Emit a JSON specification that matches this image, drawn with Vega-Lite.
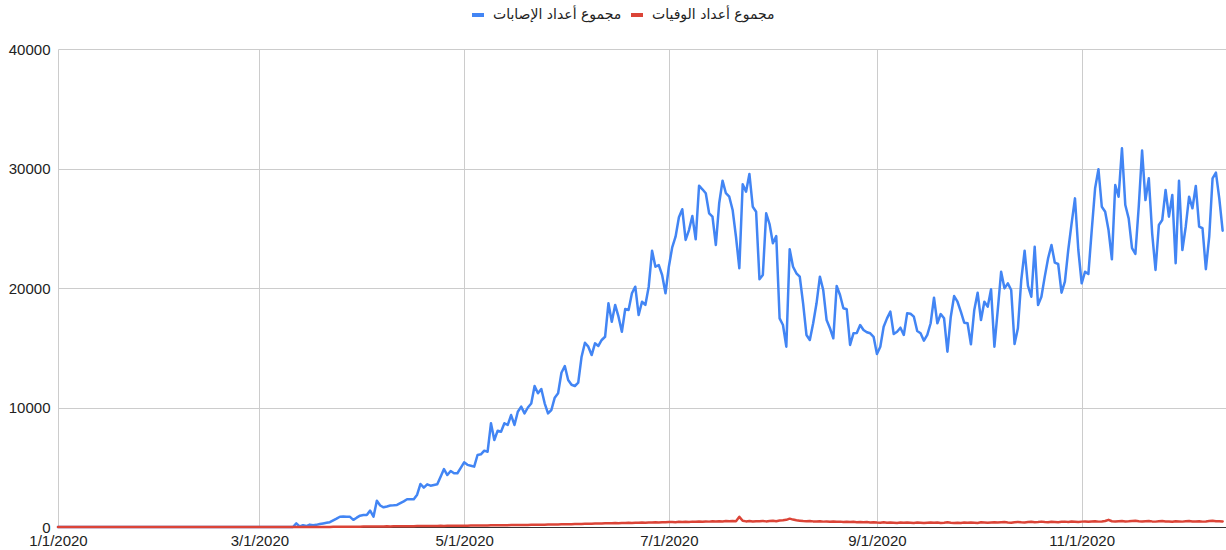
{
"$schema": "https://vega.github.io/schema/vega-lite/v6.json",
"width": 1168,
"height": 478,
"autosize": {"type": "none"},
"padding": {"left": 58, "top": 49, "right": 0, "bottom": 23},
"background": "white",
"config": {"view": {"stroke": null}, "font": "Liberation Sans"},
"data": {"values": [
{"date":"2020-01-01","cases":0,"deaths":0},{"date":"2020-01-02","cases":0,"deaths":0},{"date":"2020-01-03","cases":0,"deaths":0},{"date":"2020-01-04","cases":0,"deaths":0},{"date":"2020-01-05","cases":0,"deaths":0},{"date":"2020-01-06","cases":0,"deaths":0},{"date":"2020-01-07","cases":0,"deaths":0},{"date":"2020-01-08","cases":0,"deaths":0},{"date":"2020-01-09","cases":0,"deaths":0},{"date":"2020-01-10","cases":0,"deaths":0},
{"date":"2020-01-11","cases":0,"deaths":0},{"date":"2020-01-12","cases":0,"deaths":0},{"date":"2020-01-13","cases":0,"deaths":0},{"date":"2020-01-14","cases":0,"deaths":0},{"date":"2020-01-15","cases":0,"deaths":0},{"date":"2020-01-16","cases":0,"deaths":0},{"date":"2020-01-17","cases":0,"deaths":0},{"date":"2020-01-18","cases":0,"deaths":0},{"date":"2020-01-19","cases":0,"deaths":0},{"date":"2020-01-20","cases":0,"deaths":0},
{"date":"2020-01-21","cases":0,"deaths":0},{"date":"2020-01-22","cases":0,"deaths":0},{"date":"2020-01-23","cases":0,"deaths":0},{"date":"2020-01-24","cases":0,"deaths":0},{"date":"2020-01-25","cases":0,"deaths":0},{"date":"2020-01-26","cases":0,"deaths":0},{"date":"2020-01-27","cases":0,"deaths":0},{"date":"2020-01-28","cases":0,"deaths":0},{"date":"2020-01-29","cases":0,"deaths":0},{"date":"2020-01-30","cases":0,"deaths":0},{"date":"2020-01-31","cases":0,"deaths":0},
{"date":"2020-02-01","cases":0,"deaths":0},{"date":"2020-02-02","cases":0,"deaths":0},{"date":"2020-02-03","cases":0,"deaths":0},{"date":"2020-02-04","cases":0,"deaths":0},{"date":"2020-02-05","cases":0,"deaths":0},{"date":"2020-02-06","cases":0,"deaths":0},{"date":"2020-02-07","cases":0,"deaths":0},{"date":"2020-02-08","cases":0,"deaths":0},{"date":"2020-02-09","cases":0,"deaths":0},{"date":"2020-02-10","cases":0,"deaths":0},
{"date":"2020-02-11","cases":0,"deaths":0},{"date":"2020-02-12","cases":0,"deaths":0},{"date":"2020-02-13","cases":0,"deaths":0},{"date":"2020-02-14","cases":0,"deaths":0},{"date":"2020-02-15","cases":0,"deaths":0},{"date":"2020-02-16","cases":0,"deaths":0},{"date":"2020-02-17","cases":0,"deaths":0},{"date":"2020-02-18","cases":0,"deaths":0},{"date":"2020-02-19","cases":0,"deaths":0},{"date":"2020-02-20","cases":0,"deaths":0},
{"date":"2020-02-21","cases":0,"deaths":0},{"date":"2020-02-22","cases":0,"deaths":0},{"date":"2020-02-23","cases":0,"deaths":0},{"date":"2020-02-24","cases":0,"deaths":0},{"date":"2020-02-25","cases":0,"deaths":0},{"date":"2020-02-26","cases":0,"deaths":0},{"date":"2020-02-27","cases":0,"deaths":0},{"date":"2020-02-28","cases":0,"deaths":0},{"date":"2020-02-29","cases":0,"deaths":0},
{"date":"2020-03-01","cases":0,"deaths":0},{"date":"2020-03-02","cases":0,"deaths":0},{"date":"2020-03-03","cases":0,"deaths":0},{"date":"2020-03-04","cases":0,"deaths":0},{"date":"2020-03-05","cases":0,"deaths":0},{"date":"2020-03-06","cases":0,"deaths":0},{"date":"2020-03-07","cases":0,"deaths":0},{"date":"2020-03-08","cases":0,"deaths":0},{"date":"2020-03-09","cases":0,"deaths":0},{"date":"2020-03-10","cases":0,"deaths":0},
{"date":"2020-03-11","cases":0,"deaths":0},{"date":"2020-03-12","cases":300,"deaths":1},{"date":"2020-03-13","cases":50,"deaths":0},{"date":"2020-03-14","cases":150,"deaths":2},{"date":"2020-03-15","cases":80,"deaths":1},{"date":"2020-03-16","cases":200,"deaths":3},{"date":"2020-03-17","cases":150,"deaths":2},{"date":"2020-03-18","cases":180,"deaths":4},{"date":"2020-03-19","cases":250,"deaths":5},{"date":"2020-03-20","cases":300,"deaths":6},
{"date":"2020-03-21","cases":350,"deaths":8},{"date":"2020-03-22","cases":400,"deaths":10},{"date":"2020-03-23","cases":550,"deaths":12},{"date":"2020-03-24","cases":700,"deaths":15},{"date":"2020-03-25","cases":860,"deaths":14},{"date":"2020-03-26","cases":870,"deaths":18},{"date":"2020-03-27","cases":860,"deaths":20},{"date":"2020-03-28","cases":850,"deaths":22},{"date":"2020-03-29","cases":600,"deaths":25},{"date":"2020-03-30","cases":780,"deaths":28},{"date":"2020-03-31","cases":950,"deaths":30},
{"date":"2020-04-01","cases":1000,"deaths":35},{"date":"2020-04-02","cases":1000,"deaths":33},{"date":"2020-04-03","cases":1370,"deaths":40},{"date":"2020-04-04","cases":860,"deaths":38},{"date":"2020-04-05","cases":2200,"deaths":45},{"date":"2020-04-06","cases":1800,"deaths":50},{"date":"2020-04-07","cases":1650,"deaths":48},{"date":"2020-04-08","cases":1720,"deaths":55},{"date":"2020-04-09","cases":1800,"deaths":52},{"date":"2020-04-10","cases":1820,"deaths":60},
{"date":"2020-04-11","cases":1850,"deaths":58},{"date":"2020-04-12","cases":2000,"deaths":62},{"date":"2020-04-13","cases":2150,"deaths":65},{"date":"2020-04-14","cases":2320,"deaths":70},{"date":"2020-04-15","cases":2330,"deaths":68},{"date":"2020-04-16","cases":2320,"deaths":72},{"date":"2020-04-17","cases":2700,"deaths":75},{"date":"2020-04-18","cases":3600,"deaths":80},{"date":"2020-04-19","cases":3290,"deaths":78},{"date":"2020-04-20","cases":3570,"deaths":82},
{"date":"2020-04-21","cases":3460,"deaths":85},{"date":"2020-04-22","cases":3520,"deaths":88},{"date":"2020-04-23","cases":3570,"deaths":90},{"date":"2020-04-24","cases":4210,"deaths":95},{"date":"2020-04-25","cases":4850,"deaths":92},{"date":"2020-04-26","cases":4350,"deaths":98},{"date":"2020-04-27","cases":4690,"deaths":100},{"date":"2020-04-28","cases":4500,"deaths":105},{"date":"2020-04-29","cases":4500,"deaths":110},{"date":"2020-04-30","cases":4950,"deaths":108},
{"date":"2020-05-01","cases":5410,"deaths":115},{"date":"2020-05-02","cases":5200,"deaths":112},{"date":"2020-05-03","cases":5130,"deaths":120},{"date":"2020-05-04","cases":5050,"deaths":118},{"date":"2020-05-05","cases":6025,"deaths":125},{"date":"2020-05-06","cases":6080,"deaths":130},{"date":"2020-05-07","cases":6390,"deaths":128},{"date":"2020-05-08","cases":6300,"deaths":135},{"date":"2020-05-09","cases":8680,"deaths":140},{"date":"2020-05-10","cases":7280,"deaths":138},
{"date":"2020-05-11","cases":8060,"deaths":145},{"date":"2020-05-12","cases":7975,"deaths":150},{"date":"2020-05-13","cases":8680,"deaths":148},{"date":"2020-05-14","cases":8540,"deaths":155},{"date":"2020-05-15","cases":9370,"deaths":160},{"date":"2020-05-16","cases":8540,"deaths":158},{"date":"2020-05-17","cases":9650,"deaths":165},{"date":"2020-05-18","cases":10070,"deaths":170},{"date":"2020-05-19","cases":9510,"deaths":175},{"date":"2020-05-20","cases":10000,"deaths":172},
{"date":"2020-05-21","cases":10330,"deaths":180},{"date":"2020-05-22","cases":11800,"deaths":185},{"date":"2020-05-23","cases":11190,"deaths":190},{"date":"2020-05-24","cases":11550,"deaths":188},{"date":"2020-05-25","cases":10350,"deaths":195},{"date":"2020-05-26","cases":9510,"deaths":200},{"date":"2020-05-27","cases":9790,"deaths":210},{"date":"2020-05-28","cases":10820,"deaths":205},{"date":"2020-05-29","cases":11190,"deaths":215},{"date":"2020-05-30","cases":12910,"deaths":220},{"date":"2020-05-31","cases":13470,"deaths":230},
{"date":"2020-06-01","cases":12300,"deaths":225},{"date":"2020-06-02","cases":11900,"deaths":240},{"date":"2020-06-03","cases":11800,"deaths":250},{"date":"2020-06-04","cases":12080,"deaths":245},{"date":"2020-06-05","cases":14250,"deaths":260},{"date":"2020-06-06","cases":15420,"deaths":270},{"date":"2020-06-07","cases":15090,"deaths":265},{"date":"2020-06-08","cases":14390,"deaths":280},{"date":"2020-06-09","cases":15370,"deaths":290},{"date":"2020-06-10","cases":15150,"deaths":285},
{"date":"2020-06-11","cases":15650,"deaths":300},{"date":"2020-06-12","cases":15920,"deaths":310},{"date":"2020-06-13","cases":18720,"deaths":305},{"date":"2020-06-14","cases":17180,"deaths":320},{"date":"2020-06-15","cases":18580,"deaths":330},{"date":"2020-06-16","cases":17600,"deaths":315},{"date":"2020-06-17","cases":16340,"deaths":335},{"date":"2020-06-18","cases":18240,"deaths":340},{"date":"2020-06-19","cases":18160,"deaths":350},{"date":"2020-06-20","cases":19560,"deaths":340},
{"date":"2020-06-21","cases":20110,"deaths":360},{"date":"2020-06-22","cases":17740,"deaths":355},{"date":"2020-06-23","cases":18850,"deaths":370},{"date":"2020-06-24","cases":18580,"deaths":365},{"date":"2020-06-25","cases":20110,"deaths":380},{"date":"2020-06-26","cases":23120,"deaths":375},{"date":"2020-06-27","cases":21780,"deaths":390},{"date":"2020-06-28","cases":21920,"deaths":385},{"date":"2020-06-29","cases":21090,"deaths":400},{"date":"2020-06-30","cases":19560,"deaths":390},
{"date":"2020-07-01","cases":21780,"deaths":410},{"date":"2020-07-02","cases":23400,"deaths":420},{"date":"2020-07-03","cases":24290,"deaths":405},{"date":"2020-07-04","cases":25920,"deaths":430},{"date":"2020-07-05","cases":26590,"deaths":415},{"date":"2020-07-06","cases":24020,"deaths":440},{"date":"2020-07-07","cases":24850,"deaths":425},{"date":"2020-07-08","cases":26020,"deaths":450},{"date":"2020-07-09","cases":24070,"deaths":430},{"date":"2020-07-10","cases":28560,"deaths":460},
{"date":"2020-07-11","cases":28260,"deaths":445},{"date":"2020-07-12","cases":27930,"deaths":470},{"date":"2020-07-13","cases":26250,"deaths":450},{"date":"2020-07-14","cases":25970,"deaths":480},{"date":"2020-07-15","cases":23600,"deaths":460},{"date":"2020-07-16","cases":27090,"deaths":490},{"date":"2020-07-17","cases":28980,"deaths":470},{"date":"2020-07-18","cases":27930,"deaths":500},{"date":"2020-07-19","cases":27640,"deaths":480},{"date":"2020-07-20","cases":26530,"deaths":510},
{"date":"2020-07-21","cases":24290,"deaths":490},{"date":"2020-07-22","cases":21650,"deaths":850},{"date":"2020-07-23","cases":28680,"deaths":520},{"date":"2020-07-24","cases":28060,"deaths":470},{"date":"2020-07-25","cases":29540,"deaths":500},{"date":"2020-07-26","cases":26800,"deaths":460},{"date":"2020-07-27","cases":26380,"deaths":490},{"date":"2020-07-28","cases":20730,"deaths":480},{"date":"2020-07-29","cases":21090,"deaths":510},{"date":"2020-07-30","cases":26250,"deaths":470},{"date":"2020-07-31","cases":25350,"deaths":500},
{"date":"2020-08-01","cases":23740,"deaths":520},{"date":"2020-08-02","cases":24350,"deaths":480},{"date":"2020-08-03","cases":17460,"deaths":540},{"date":"2020-08-04","cases":16900,"deaths":560},{"date":"2020-08-05","cases":15090,"deaths":600},{"date":"2020-08-06","cases":23240,"deaths":700},{"date":"2020-08-07","cases":21780,"deaths":620},{"date":"2020-08-08","cases":21230,"deaths":560},{"date":"2020-08-09","cases":20950,"deaths":530},{"date":"2020-08-10","cases":18720,"deaths":500},
{"date":"2020-08-11","cases":16070,"deaths":480},{"date":"2020-08-12","cases":15650,"deaths":510},{"date":"2020-08-13","cases":17050,"deaths":470},{"date":"2020-08-14","cases":18720,"deaths":460},{"date":"2020-08-15","cases":20950,"deaths":490},{"date":"2020-08-16","cases":19830,"deaths":450},{"date":"2020-08-17","cases":17320,"deaths":470},{"date":"2020-08-18","cases":16630,"deaths":440},{"date":"2020-08-19","cases":15790,"deaths":460},{"date":"2020-08-20","cases":20170,"deaths":430},
{"date":"2020-08-21","cases":19410,"deaths":450},{"date":"2020-08-22","cases":18300,"deaths":420},{"date":"2020-08-23","cases":18220,"deaths":440},{"date":"2020-08-24","cases":15230,"deaths":410},{"date":"2020-08-25","cases":16210,"deaths":430},{"date":"2020-08-26","cases":16230,"deaths":400},{"date":"2020-08-27","cases":16900,"deaths":420},{"date":"2020-08-28","cases":16490,"deaths":390},{"date":"2020-08-29","cases":16300,"deaths":410},{"date":"2020-08-30","cases":16210,"deaths":380},{"date":"2020-08-31","cases":15920,"deaths":400},
{"date":"2020-09-01","cases":14480,"deaths":370},{"date":"2020-09-02","cases":15090,"deaths":360},{"date":"2020-09-03","cases":16760,"deaths":390},{"date":"2020-09-04","cases":17460,"deaths":350},{"date":"2020-09-05","cases":18020,"deaths":380},{"date":"2020-09-06","cases":16150,"deaths":360},{"date":"2020-09-07","cases":16340,"deaths":340},{"date":"2020-09-08","cases":16680,"deaths":370},{"date":"2020-09-09","cases":16070,"deaths":350},{"date":"2020-09-10","cases":17880,"deaths":380},
{"date":"2020-09-11","cases":17850,"deaths":360},{"date":"2020-09-12","cases":17600,"deaths":340},{"date":"2020-09-13","cases":16400,"deaths":370},{"date":"2020-09-14","cases":16210,"deaths":350},{"date":"2020-09-15","cases":15590,"deaths":330},{"date":"2020-09-16","cases":16070,"deaths":360},{"date":"2020-09-17","cases":17050,"deaths":380},{"date":"2020-09-18","cases":19190,"deaths":350},{"date":"2020-09-19","cases":17050,"deaths":370},{"date":"2020-09-20","cases":17820,"deaths":340},
{"date":"2020-09-21","cases":17460,"deaths":360},{"date":"2020-09-22","cases":14670,"deaths":390},{"date":"2020-09-23","cases":17600,"deaths":350},{"date":"2020-09-24","cases":19330,"deaths":330},{"date":"2020-09-25","cases":18850,"deaths":360},{"date":"2020-09-26","cases":18020,"deaths":340},{"date":"2020-09-27","cases":17100,"deaths":370},{"date":"2020-09-28","cases":17050,"deaths":350},{"date":"2020-09-29","cases":15290,"deaths":380},{"date":"2020-09-30","cases":18160,"deaths":360},
{"date":"2020-10-01","cases":19610,"deaths":340},{"date":"2020-10-02","cases":17320,"deaths":390},{"date":"2020-10-03","cases":18850,"deaths":370},{"date":"2020-10-04","cases":18440,"deaths":350},{"date":"2020-10-05","cases":19890,"deaths":380},{"date":"2020-10-06","cases":15090,"deaths":400},{"date":"2020-10-07","cases":18160,"deaths":370},{"date":"2020-10-08","cases":21360,"deaths":390},{"date":"2020-10-09","cases":19970,"deaths":410},{"date":"2020-10-10","cases":20390,"deaths":380},
{"date":"2020-10-11","cases":19830,"deaths":360},{"date":"2020-10-12","cases":15310,"deaths":400},{"date":"2020-10-13","cases":16630,"deaths":420},{"date":"2020-10-14","cases":20670,"deaths":390},{"date":"2020-10-15","cases":23120,"deaths":380},{"date":"2020-10-16","cases":20170,"deaths":410},{"date":"2020-10-17","cases":19270,"deaths":430},{"date":"2020-10-18","cases":23450,"deaths":400},{"date":"2020-10-19","cases":18580,"deaths":420},{"date":"2020-10-20","cases":19270,"deaths":450},
{"date":"2020-10-21","cases":20950,"deaths":410},{"date":"2020-10-22","cases":22490,"deaths":390},{"date":"2020-10-23","cases":23600,"deaths":440},{"date":"2020-10-24","cases":22120,"deaths":420},{"date":"2020-10-25","cases":22010,"deaths":400},{"date":"2020-10-26","cases":19610,"deaths":430},{"date":"2020-10-27","cases":20530,"deaths":450},{"date":"2020-10-28","cases":23180,"deaths":420},{"date":"2020-10-29","cases":25410,"deaths":460},{"date":"2020-10-30","cases":27500,"deaths":440},{"date":"2020-10-31","cases":23180,"deaths":410},
{"date":"2020-11-01","cases":20390,"deaths":450},{"date":"2020-11-02","cases":21360,"deaths":470},{"date":"2020-11-03","cases":21170,"deaths":440},{"date":"2020-11-04","cases":24850,"deaths":460},{"date":"2020-11-05","cases":28340,"deaths":480},{"date":"2020-11-06","cases":29930,"deaths":450},{"date":"2020-11-07","cases":26800,"deaths":470},{"date":"2020-11-08","cases":26380,"deaths":500},{"date":"2020-11-09","cases":24850,"deaths":600},{"date":"2020-11-10","cases":22400,"deaths":480},
{"date":"2020-11-11","cases":28620,"deaths":460},{"date":"2020-11-12","cases":27640,"deaths":490},{"date":"2020-11-13","cases":31690,"deaths":500},{"date":"2020-11-14","cases":26940,"deaths":470},{"date":"2020-11-15","cases":25830,"deaths":480},{"date":"2020-11-16","cases":23330,"deaths":500},{"date":"2020-11-17","cases":22850,"deaths":520},{"date":"2020-11-18","cases":26800,"deaths":480},{"date":"2020-11-19","cases":31500,"deaths":460},{"date":"2020-11-20","cases":27360,"deaths":490},
{"date":"2020-11-21","cases":29180,"deaths":510},{"date":"2020-11-22","cases":24580,"deaths":470},{"date":"2020-11-23","cases":21510,"deaths":450},{"date":"2020-11-24","cases":25270,"deaths":480},{"date":"2020-11-25","cases":25690,"deaths":500},{"date":"2020-11-26","cases":28200,"deaths":470},{"date":"2020-11-27","cases":25970,"deaths":460},{"date":"2020-11-28","cases":27780,"deaths":440},{"date":"2020-11-29","cases":22070,"deaths":490},{"date":"2020-11-30","cases":28980,"deaths":470},
{"date":"2020-12-01","cases":23180,"deaths":450},{"date":"2020-12-02","cases":25130,"deaths":480},{"date":"2020-12-03","cases":27640,"deaths":500},{"date":"2020-12-04","cases":26670,"deaths":470},{"date":"2020-12-05","cases":28540,"deaths":460},{"date":"2020-12-06","cases":25130,"deaths":480},{"date":"2020-12-07","cases":25000,"deaths":450},{"date":"2020-12-08","cases":21570,"deaths":470},{"date":"2020-12-09","cases":24290,"deaths":500},{"date":"2020-12-10","cases":29180,"deaths":520},
{"date":"2020-12-11","cases":29650,"deaths":480},{"date":"2020-12-12","cases":27500,"deaths":490},{"date":"2020-12-13","cases":24800,"deaths":470}
]},
"transform": [{"fold": ["cases", "deaths"], "as": ["series", "value"]}],
"mark": {"type": "line", "strokeWidth": 2.5, "strokeJoin": "round", "strokeCap": "round"},
"encoding": {
  "x": {
    "field": "date", "type": "temporal",
    "scale": {"type": "utc", "domain": [{"year": 2020, "month": 1, "date": 1, "utc": true}, {"year": 2020, "month": 12, "date": 14, "utc": true}], "nice": false},
    "axis": {
      "title": null,
      "values": [
        {"year": 2020, "month": 1, "date": 1, "utc": true},
        {"year": 2020, "month": 3, "date": 1, "utc": true},
        {"year": 2020, "month": 5, "date": 1, "utc": true},
        {"year": 2020, "month": 7, "date": 1, "utc": true},
        {"year": 2020, "month": 9, "date": 1, "utc": true},
        {"year": 2020, "month": 11, "date": 1, "utc": true}
      ],
      "format": "%-m/%-d/%Y",
      "labelFontSize": 15, "labelColor": "#222222", "labelPadding": 6,
      "ticks": false, "grid": true, "gridColor": "#cccccc", "gridWidth": 1,
      "domainColor": "#333333", "domainWidth": 1, "labelFlush": false, "labelOverlap": false
    }
  },
  "y": {
    "field": "value", "type": "quantitative",
    "scale": {"domain": [0, 40000], "nice": false},
    "axis": {
      "title": null, "values": [0, 10000, 20000, 30000, 40000], "format": "d",
      "labelFontSize": 15, "labelColor": "#222222", "labelPadding": 8,
      "ticks": false, "domain": false, "grid": true, "gridColor": "#cccccc", "gridWidth": 1
    }
  },
  "color": {
    "field": "series", "type": "nominal",
    "scale": {"domain": ["cases", "deaths"], "range": ["#4285f4", "#db4437"]},
    "legend": {
      "title": null, "orient": "none", "legendX": 412, "legendY": -42, "direction": "horizontal",
      "labelExpr": "datum.value == 'cases' ? 'مجموع أعداد الإصابات' : 'مجموع أعداد الوفيات'",
      "labelFont": "DejaVu Sans", "labelFontSize": 14, "labelColor": "#222222",
      "symbolType": "stroke", "symbolStrokeWidth": 4, "symbolSize": 144, "labelOffset": 7, "columnPadding": 1
    }
  }
}
}
